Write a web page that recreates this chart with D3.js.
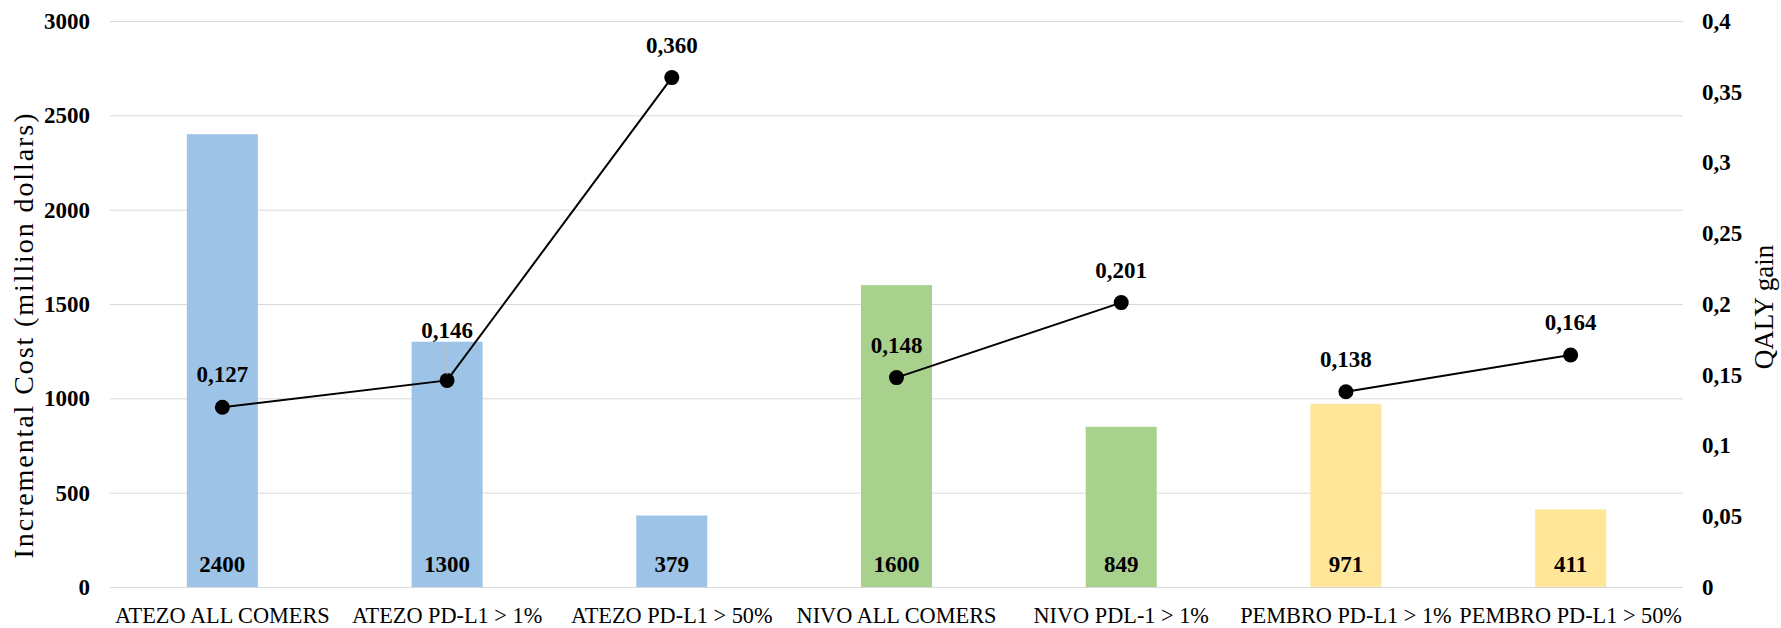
<!DOCTYPE html>
<html>
<head>
<meta charset="utf-8">
<script src="https://cdn.jsdelivr.net/npm/d3@7"></script>
<style>
  body { margin: 0; background: #fff; }
  text { font-family: "Liberation Serif", "Times New Roman", serif; fill: #000; }
  .axis .domain { display: none; }
  .axis line { stroke: #d9d9d9; }
</style>
</head>
<body>
<svg id="chart"></svg>
<script>
/*
    DATA
*/
var categories = ["ATEZO ALL COMERS", "ATEZO PD-L1 > 1%", "ATEZO PD-L1 > 50%",
                  "NIVO ALL COMERS", "NIVO PDL-1 > 1%", "PEMBRO PD-L1 > 1%", "PEMBRO PD-L1 > 50%"];
var drugs = ["ATEZO", "ATEZO", "ATEZO", "NIVO", "NIVO", "PEMBRO", "PEMBRO"];
var cost = [2400, 1300, 379, 1600, 849, 971, 411];
var qaly = [0.127, 0.146, 0.360, 0.148, 0.201, 0.138, 0.164];
var costTicks = [0, 500, 1000, 1500, 2000, 2500, 3000];
var qalyTicks = [0, 0.05, 0.1, 0.15, 0.2, 0.25, 0.3, 0.35, 0.4];
var qalyTickLabels = ["0", "0,05", "0,1", "0,15", "0,2", "0,25", "0,3", "0,35", "0,4"];

/*
    LAYOUT
*/
var width = 1781;
var height = 628;
var margin = {top: 21, right: 98, bottom: 41, left: 110};
var w = width - margin.left - margin.right;
var h = height - margin.top - margin.bottom;

var drugColor = {ATEZO: "#9dc3e6", NIVO: "#a9d18e", PEMBRO: "#ffe699"};

var commaFmt = function(v) { return d3.format(".3f")(v).replace(".", ","); };

var svg = d3.select("#chart")
    .attr("width", width)
    .attr("height", height);

var g = svg.append("g")
    .attr("transform", "translate(" + margin.left + "," + margin.top + ")");

var x = d3.scaleBand()
    .domain(categories)
    .range([0, w])
    .paddingInner(0.684)
    .paddingOuter(0.342);

var yCost = d3.scaleLinear().domain([0, 3000]).range([h, 0]);
var yQaly = d3.scaleLinear().domain([0, 0.4]).range([h, 0]);

// gridlines + left ticks
var leftAxis = g.append("g")
    .attr("class", "axis")
    .call(d3.axisLeft(yCost).tickValues(costTicks).tickSize(-w).tickPadding(20)
          .tickFormat(d3.format("d")));
leftAxis.selectAll("text")
    .style("font-size", "23px")
    .style("font-weight", "bold")
    .style("font-family", "'Liberation Serif', serif");

// right ticks (no lines)
var rightAxis = g.append("g")
    .attr("class", "axis")
    .attr("transform", "translate(" + w + ",0)")
    .call(d3.axisRight(yQaly).tickValues(qalyTicks).tickSize(0).tickPadding(19)
          .tickFormat(function(d, i) { return qalyTickLabels[i]; }));
rightAxis.selectAll("text")
    .style("font-size", "23px")
    .style("font-weight", "bold")
    .style("font-family", "'Liberation Serif', serif");

// bars
g.selectAll(".bar")
    .data(cost)
    .enter().append("rect")
    .attr("class", "bar")
    .attr("x", function(d, i) { return x(categories[i]); })
    .attr("width", x.bandwidth())
    .attr("y", function(d) { return yCost(d); })
    .attr("height", function(d) { return h - yCost(d); })
    .attr("fill", function(d, i) { return drugColor[drugs[i]]; });

// bar value labels
g.selectAll(".barlabel")
    .data(cost)
    .enter().append("text")
    .attr("class", "barlabel")
    .attr("x", function(d, i) { return x(categories[i]) + x.bandwidth() / 2; })
    .attr("y", h - 15)
    .attr("text-anchor", "middle")
    .style("font-size", "23px")
    .style("font-weight", "bold")
    .text(function(d) { return d; });

// x labels
g.selectAll(".xlabel")
    .data(categories)
    .enter().append("text")
    .attr("class", "xlabel")
    .attr("x", function(d) { return x(d) + x.bandwidth() / 2; })
    .attr("y", h + 36)
    .attr("text-anchor", "middle")
    .style("font-size", "22.3px")
    .text(function(d) { return d; });

// QALY line, one segment per drug
var cx = function(i) { return x(categories[i]) + x.bandwidth() / 2; };
var line = d3.line()
    .x(function(i) { return cx(i); })
    .y(function(i) { return yQaly(qaly[i]); });

Object.keys(drugColor).forEach(function(drug) {
  var idx = d3.range(qaly.length).filter(function(i) { return drugs[i] == drug; });
  g.append("path")
      .attr("d", line(idx))
      .attr("fill", "none")
      .attr("stroke", "#000")
      .attr("stroke-width", 2);
});

g.selectAll(".dot")
    .data(qaly)
    .enter().append("circle")
    .attr("class", "dot")
    .attr("cx", function(d, i) { return cx(i); })
    .attr("cy", function(d) { return yQaly(d); })
    .attr("r", 7.5)
    .attr("fill", "#000");

// label for the 2nd point was dragged up in the original, with a leader line
var labelLift = function(i) { return i == 1 ? 42 : 25; };

g.append("line")
    .attr("x1", cx(1)).attr("x2", cx(1))
    .attr("y1", yQaly(qaly[1]) - 36)
    .attr("y2", yQaly(qaly[1]) - 6)
    .attr("stroke", "#bfbfbf")
    .attr("stroke-width", 1);

g.selectAll(".qlabel")
    .data(qaly)
    .enter().append("text")
    .attr("class", "qlabel")
    .attr("x", function(d, i) { return cx(i); })
    .attr("y", function(d, i) { return yQaly(d) - labelLift(i); })
    .attr("text-anchor", "middle")
    .style("font-size", "23px")
    .style("font-weight", "bold")
    .text(function(d) { return commaFmt(d); });

// axis titles
svg.append("text")
    .attr("transform", "translate(33," + 336 + ") rotate(-90)")
    .attr("text-anchor", "middle")
    .style("font-size", "28px")
    .attr("textLength", 445)
    .attr("lengthAdjust", "spacing")
    .text("Incremental Cost (million dollars)");

svg.append("text")
    .attr("transform", "translate(1773," + 307 + ") rotate(-90)")
    .attr("text-anchor", "middle")
    .style("font-size", "27px")
    .text("QALY gain");
</script>
</body>
</html>
